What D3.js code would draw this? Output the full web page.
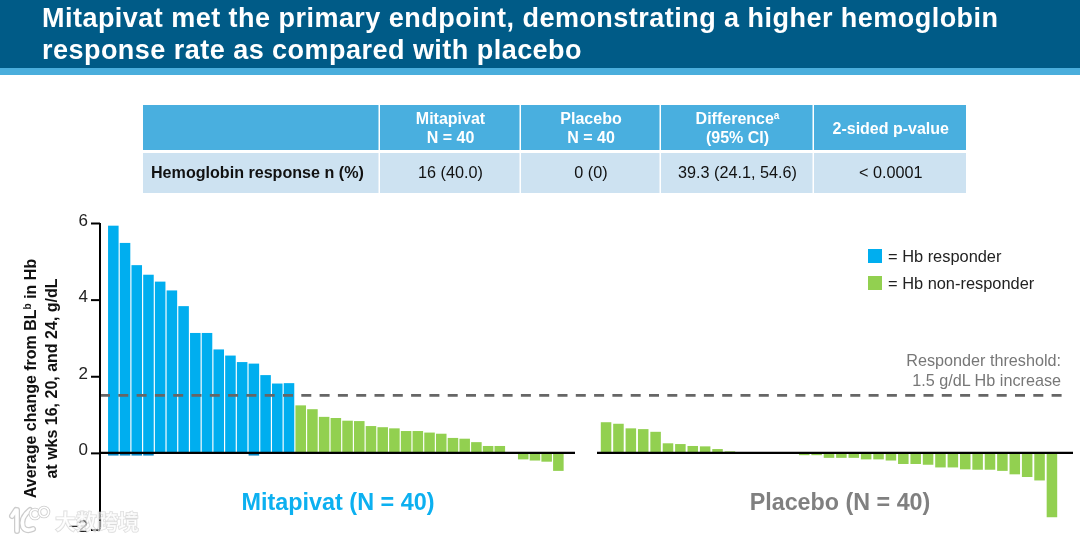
<!DOCTYPE html>
<html><head><meta charset="utf-8">
<script src="https://cdn.jsdelivr.net/npm/d3@7"></script>
<style>html,body{margin:0;padding:0;background:#fff}svg{display:block;filter:blur(0.35px)}text{font-family:"Liberation Sans",Arial,sans-serif}</style>
</head><body><svg id="c" width="1080" height="541"></svg>
<script>
const titleLines=["Mitapivat met the primary endpoint, demonstrating a higher hemoglobin","response rate as compared with placebo"];
const tableHeader=[[""],["Mitapivat","N = 40"],["Placebo","N = 40"],["Difference|a","(95% CI)"],["2-sided p-value"]];
const tableRow=["Hemoglobin response n (%)","16 (40.0)","0 (0)","39.3 (24.1, 54.6)","< 0.0001"];
const yTicks=[6,4,2,0,-2];
const threshold=1.5;
const mitapivatResponders=[5.93,5.48,4.90,4.65,4.47,4.24,3.83,3.13,3.13,2.70,2.54,2.37,2.33,2.03,1.81,1.82];
const mitapivatResponderDips=[0.07,0.07,0.07,0.07,0,0,0,0,0,0,0,0,0.07,0,0,0];
const mitapivatNonResponders=[1.24,1.14,0.94,0.91,0.84,0.83,0.70,0.67,0.64,0.57,0.57,0.53,0.50,0.39,0.37,0.28,0.18,0.18,0,-0.17,-0.20,-0.23,-0.47];
const placeboValues=[0.80,0.76,0.64,0.62,0.55,0.25,0.23,0.18,0.17,0.10,0.04,0.01,0,0,0,0,-0.06,-0.06,-0.13,-0.13,-0.13,-0.17,-0.17,-0.20,-0.29,-0.29,-0.31,-0.38,-0.38,-0.43,-0.44,-0.44,-0.47,-0.56,-0.63,-0.72,-1.68];
const legendItems=[["= Hb responder","#00aeef"],["= Hb non-responder","#92d050"]];
const thresholdLines=["Responder threshold:","1.5 g/dL Hb increase"];
const yTitleLines=[["Average change from BL","b"," in Hb"],["at wks 16, 20, and 24, g/dL"]];
const groupLabels=["Mitapivat (N = 40)","Placebo (N = 40)"];
const columnEdges=[143,380,521,661,814,967.5];

const svg=d3.select("#c");
svg.append("rect").attr("width",1080).attr("height",69).attr("fill","#005b87");
svg.append("rect").attr("y",68).attr("width",1080).attr("height",7).attr("fill","#4aaedc");
svg.selectAll(".t").data(titleLines).join("text").attr("x",42).attr("y",(d,i)=>27+i*32)
 .attr("fill","#fff").attr("font-weight","bold").attr("font-size",27).attr("letter-spacing",0.47).text(d=>d);

// table
const HEAD=[105,150],ROW=[153,193];
columnEdges.slice(0,-1).forEach((x0,i)=>{
 const x1=columnEdges[i+1],w=x1-x0-1.5,cx=x0+(x1-x0)/2;
 svg.append("rect").attr("x",x0).attr("y",HEAD[0]).attr("width",w).attr("height",HEAD[1]-HEAD[0]).attr("fill","#49afdf");
 svg.append("rect").attr("x",x0).attr("y",ROW[0]).attr("width",w).attr("height",ROW[1]-ROW[0]).attr("fill","#cde2f1");
 const h=tableHeader[i];
 h.forEach((ln,j)=>{
  const y=h.length==2?123.5+j*19:133.5;
  const [a,sup]=ln.split("|");
  const t=svg.append("text").attr("x",cx).attr("y",y).attr("text-anchor","middle").attr("fill","#fff").attr("font-weight","bold").attr("font-size",16);
  t.append("tspan").text(a);
  if(sup)t.append("tspan").attr("font-size",10).attr("dy",-5).text(sup);
 });
 svg.append("text").attr("x",i==0?151:cx).attr("y",178).attr("text-anchor",i==0?"start":"middle").attr("fill","#111")
  .attr("font-weight",i==0?"bold":"normal").attr("font-size",i==0?16.1:16.2).text(tableRow[i]);
});

// chart
const y=d3.scaleLinear().domain([-2,6]).range([529.5,223]);
const mitData=[...mitapivatResponders.map(v=>({v,c:legendItems[0][1]})),...mitapivatNonResponders.map(v=>({v,c:legendItems[1][1]}))];
const xM=d3.scaleBand().domain(d3.range(40)).range([107.7,575.7]).paddingInner(0.1).paddingOuter(0.03);
const xP=d3.scaleBand().domain(d3.range(placeboValues.length)).range([600.8,1057.2]).paddingInner(0.15).paddingOuter(0);

svg.append("g").selectAll("rect").data(mitapivatResponderDips).join("rect")
 .attr("x",(d,i)=>xM(i)).attr("width",xM.bandwidth()).attr("y",y(0)).attr("height",d=>y(-d)-y(0)).attr("fill","#0a86c4");
svg.append("g").selectAll("rect").data(mitData).join("rect")
 .attr("x",(d,i)=>xM(i)).attr("width",xM.bandwidth())
 .attr("y",d=>y(Math.max(d.v,0))).attr("height",d=>Math.abs(y(d.v)-y(0))).attr("fill",d=>d.c);
svg.append("g").selectAll("rect").data(placeboValues).join("rect")
 .attr("x",(d,i)=>xP(i)).attr("width",xP.bandwidth())
 .attr("y",d=>y(Math.max(d,0))).attr("height",d=>Math.abs(y(d)-y(0))).attr("fill",legendItems[1][1]);

svg.append("line").attr("x1",100).attr("x2",1067).attr("y1",y(threshold)).attr("y2",y(threshold))
 .attr("stroke","#666").attr("stroke-width",2.6).attr("stroke-dasharray","10 8.3");

const axisG=svg.append("g").attr("transform","translate(100,0)")
 .call(d3.axisLeft(y).tickValues(yTicks).tickSize(9).tickPadding(3).tickFormat(d3.format("d")));
axisG.selectAll("path,line").attr("stroke","#000").attr("stroke-width",2);
axisG.selectAll("text").attr("font-size",17).attr("fill","#222").attr("font-family",'"Liberation Sans",Arial,sans-serif').attr("dy","0.12em");
axisG.select(".domain").attr("d",`M0,${y(6)}V${y(-2)}`);
[[100,575],[597,1073]].forEach(([a,b])=>svg.append("line").attr("x1",a).attr("x2",b).attr("y1",y(0)).attr("y2",y(0)).attr("stroke","#000").attr("stroke-width",2.4));

yTitleLines.forEach((parts,i)=>{
 const t=svg.append("text").attr("transform",`translate(${35.5+i*21.5},378.5) rotate(-90)`).attr("text-anchor","middle")
  .attr("font-weight","bold").attr("font-size",16).attr("fill","#111");
 parts.forEach((p,j)=>{const s=t.append("tspan").text(p);
  if(parts.length>1&&j==1)s.attr("font-size",10).attr("dy",-5);
  if(parts.length>1&&j==2)s.attr("dy",5);});
});

legendItems.forEach(([label,col],i)=>{
 svg.append("rect").attr("x",868).attr("y",249+i*27).attr("width",14).attr("height",14).attr("fill",col);
 svg.append("text").attr("x",888).attr("y",261.5+i*27).attr("font-size",16.4).attr("fill","#222").text(label);
});
thresholdLines.forEach((l,i)=>svg.append("text").attr("x",1061).attr("y",366+i*19.5).attr("text-anchor","end").attr("font-size",16.2).attr("fill","#777").text(l));
svg.append("text").attr("x",338).attr("y",510).attr("text-anchor","middle").attr("font-weight","bold").attr("font-size",23.4).attr("fill","#0cb0f0").text(groupLabels[0]);
svg.append("text").attr("x",840).attr("y",510).attr("text-anchor","middle").attr("font-weight","bold").attr("font-size",23.3).attr("fill","#808080").text(groupLabels[1]);

// watermark
const wm=svg.append("g");
const logo="M16,510 L12,516 M17,510 V531 M30,510 Q20,518 23,527 Q26,532 33,529";
wm.append("path").attr("d",logo).attr("fill","none").attr("stroke","#ccc").attr("stroke-width",6).attr("stroke-linecap","round");
wm.append("path").attr("d",logo).attr("fill","none").attr("stroke","#fff").attr("stroke-width",3.5).attr("stroke-linecap","round");
[[35,514,4.6],[44,512,4.6]].forEach(([cx,cy,r])=>{
 wm.append("circle").attr("cx",cx).attr("cy",cy).attr("r",r).attr("fill","none").attr("stroke","#ccc").attr("stroke-width",3.4);
 wm.append("circle").attr("cx",cx).attr("cy",cy).attr("r",r).attr("fill","none").attr("stroke","#fff").attr("stroke-width",1.8);
});
wm.append("text").attr("x",55).attr("y",529).attr("font-size",21).attr("font-weight",700).attr("style",'font-family:"Noto Sans CJK SC"').attr("fill","#fff").attr("fill-opacity",0.6).attr("stroke","#bbb").attr("stroke-opacity",0.55).attr("stroke-width",1.2).attr("paint-order","stroke").text("大数跨境");
</script></body></html>
